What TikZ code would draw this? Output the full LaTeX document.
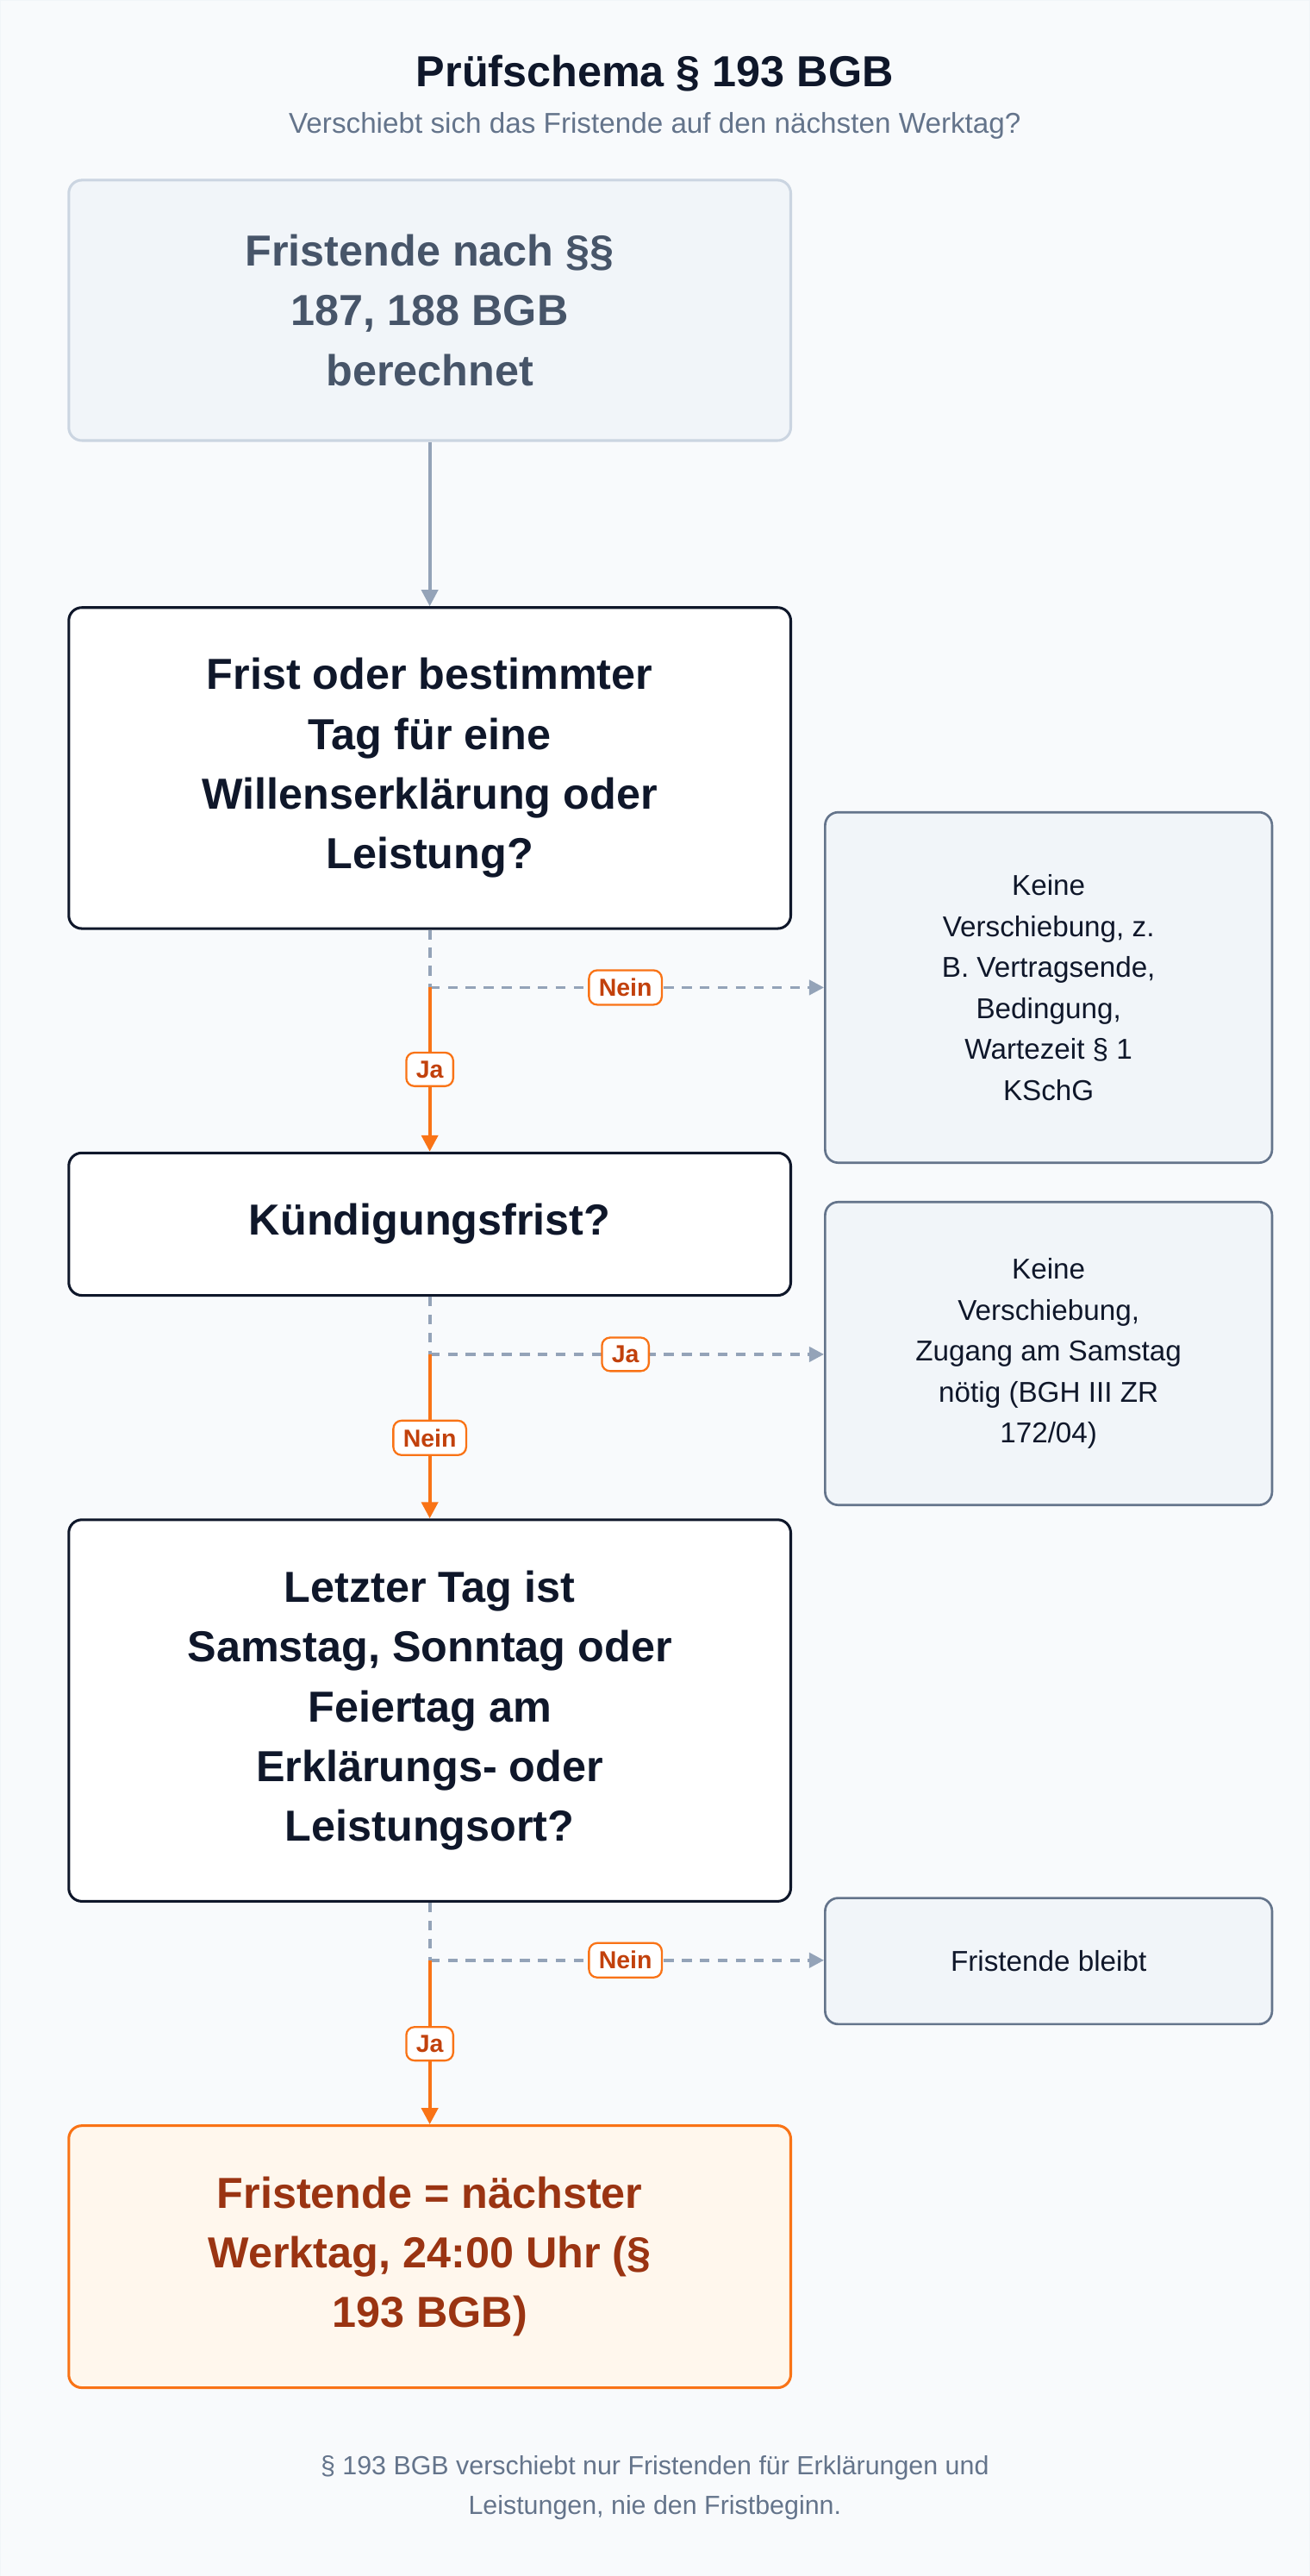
\documentclass[tikz,border=0pt]{standalone}
\usepackage{fontspec}
\setmainfont{Liberation Sans}
\usetikzlibrary{arrows.meta}
\definecolor{bg}{HTML}{F8FAFC}
\definecolor{ink}{HTML}{0F172A}
\definecolor{slate}{HTML}{475569}
\definecolor{muted}{HTML}{64748B}
\definecolor{lgray}{HTML}{CBD5E1}
\definecolor{side}{HTML}{F1F5F9}
\definecolor{conn}{HTML}{94A3B8}
\definecolor{orng}{HTML}{F97316}
\definecolor{otxt}{HTML}{C2410C}
\definecolor{ofill}{HTML}{FFF7ED}
\definecolor{odark}{HTML}{9A3412}
\begin{document}
\begin{tikzpicture}[x=1pt,y=-1pt,
  main/.style={draw=ink,line width=1.6pt,fill=white,rounded corners=8pt,align=center,
    font=\fontsize{26.5}{36.5}\selectfont\bfseries,text=ink},
  sidebox/.style={draw=muted,line width=1.4pt,fill=side,rounded corners=8pt,align=center,
    font=\fontsize{17.5}{25}\selectfont,text=ink},
  lab/.style={draw=orng,line width=1.2pt,fill=white,rounded corners=5pt,inner xsep=6pt,inner ysep=5pt,
    font=\fontsize{15}{18}\selectfont\bfseries,text=otxt},
  dline/.style={draw=conn,line width=2pt,dash pattern=on 6pt off 5pt},
  darr/.style={dline,-{Triangle[length=9pt,width=9pt]}},
  oarr/.style={draw=orng,line width=2.2pt,-{Triangle[length=10pt,width=10pt]}},
]
\useasboundingbox (0,0) rectangle (800,1573);
\fill[bg,draw=side] (0,0) rectangle (800,1573);
\node[font=\fontsize{26.5}{30}\selectfont\bfseries,text=ink] (title) at (400,45) {Prüfschema § 193 BGB};
\node[font=\fontsize{17.5}{20}\selectfont,text=muted] (sub) at (400,77) {Verschiebt sich das Fristende auf den nächsten Werktag?};

\node[main,draw=lgray,fill=side,text=slate,minimum width=441pt,minimum height=159pt] (b1) at (262.5,189.5) {Fristende nach §§\\187, 188 BGB\\berechnet};
\node[main,minimum width=441pt,minimum height=196pt] (b2) at (262.5,469) {Frist oder bestimmter\\Tag für eine\\Willenserklärung oder\\Leistung?};
\node[main,minimum width=441pt,minimum height=87pt] (b3) at (262.5,747.5) {Kündigungsfrist?};
\node[main,minimum width=441pt,minimum height=233pt] (b4) at (262.5,1044.5) {Letzter Tag ist\\Samstag, Sonntag oder\\Feiertag am\\Erklärungs- oder\\Leistungsort?};
\node[main,draw=orng,fill=ofill,text=odark,minimum width=441pt,minimum height=160pt] (b5) at (262.5,1378) {Fristende = nächster\\Werktag, 24:00 Uhr (§\\193 BGB)};

\node[sidebox,minimum width=273pt,minimum height=214pt] (s1) at (640.5,603) {Keine\\Verschiebung, z.\\B. Vertragsende,\\Bedingung,\\Wartezeit § 1\\KSchG};
\node[sidebox,minimum width=273pt,minimum height=185pt] (s2) at (640.5,826.5) {Keine\\Verschiebung,\\Zugang am Samstag\\nötig (BGH III ZR\\172/04)};
\node[sidebox,minimum width=273pt,minimum height=77pt] (s3) at (640.5,1197.5) {Fristende bleibt};

\draw[draw=conn,line width=2pt,-{Triangle[length=10pt,width=10pt]}] (b1.south) -- (b2.north);

\coordinate (j1) at (262.5,603);
\coordinate (j2) at (262.5,827);
\coordinate (j3) at (262.5,1197);
\draw[dline] (b2.south) -- (j1);
\draw[darr] (j1) -- (s1.west |- j1);
\draw[oarr] (j1) -- (b3.north);
\draw[dline] (b3.south) -- (j2);
\draw[darr] (j2) -- (s2.west |- j2);
\draw[oarr] (j2) -- (b4.north);
\draw[dline] (b4.south) -- (j3);
\draw[darr] (j3) -- (s3.west |- j3);
\draw[oarr] (j3) -- (b5.north);

\node[lab] (l1) at (382,603) {Nein};
\node[lab] (l2) at (262.5,653) {Ja};
\node[lab] (l3) at (382,827) {Ja};
\node[lab] (l4) at (262.5,878) {Nein};
\node[lab] (l5) at (382,1197) {Nein};
\node[lab] (l6) at (262.5,1248) {Ja};

\node[font=\fontsize{16}{24}\selectfont,text=muted,align=center] (foot) at (400,1519) {§ 193 BGB verschiebt nur Fristenden für Erklärungen und\\Leistungen, nie den Fristbeginn.};
\end{tikzpicture}
\end{document}
